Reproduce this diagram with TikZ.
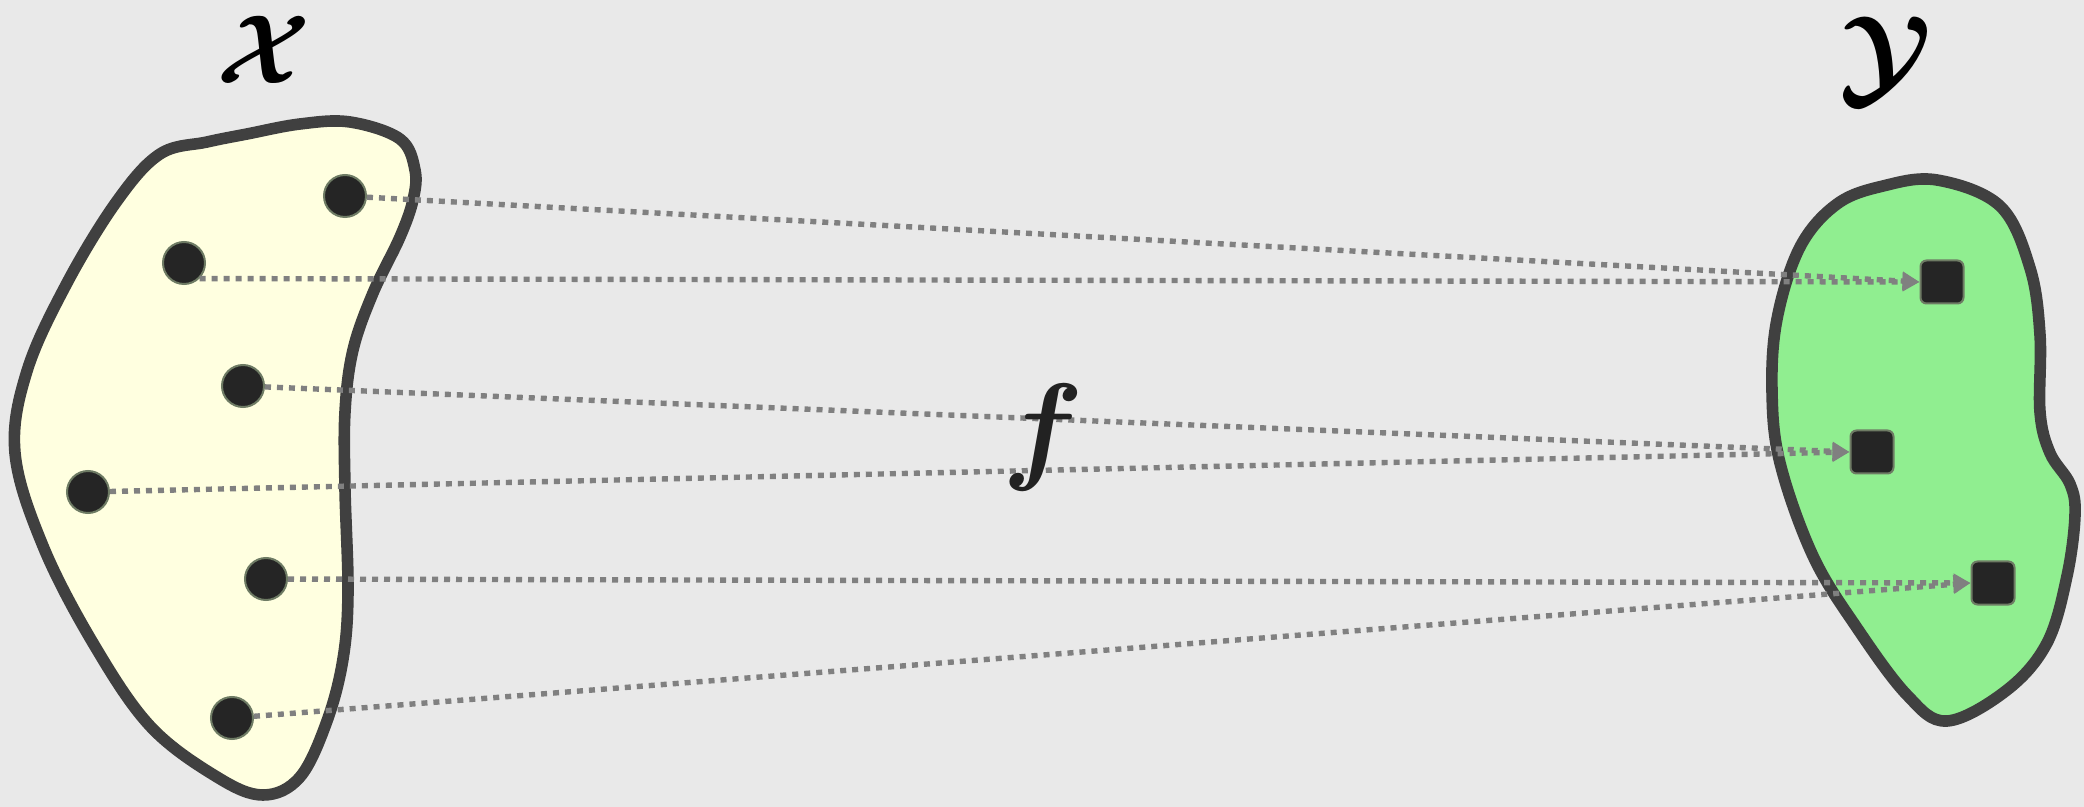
\documentclass[tikz,border=0pt]{standalone}
\usepackage{amsmath}
\usetikzlibrary{arrows.meta}
\definecolor{bg}{HTML}{E9E9E9}
\definecolor{xfill}{HTML}{FFFFE0}
\definecolor{yfill}{HTML}{90EE90}
\definecolor{outl}{HTML}{404040}
\definecolor{ptfill}{HTML}{252525}
\definecolor{ptedge}{HTML}{6E7B64}
\definecolor{conncol}{HTML}{808080}
\definecolor{flabel}{HTML}{222222}
\begin{document}
\begin{tikzpicture}[x=0.5pt,y=-0.5pt,
  blob/.style={draw=outl, line width=5.8pt, line join=round},
  ptx/.style={circle, fill=ptfill, draw=ptedge, line width=1pt, minimum size=21pt, inner sep=0pt},
  pty/.style={rectangle, rounded corners=3pt, fill=ptfill, draw=ptedge, line width=1pt, minimum size=21.5pt, inner sep=0pt},
  maparrow/.style={draw=conncol, line width=2.7pt, dash pattern=on 3pt off 3pt, -{Triangle[length=8.5pt,width=9pt,fill=conncol]}},
  setlabel/.style={inner sep=0pt, text=black}]
\fill[bg] (0,0) rectangle (2084,807);
\useasboundingbox (0,0) rectangle (2084,807);
% set X
\filldraw[blob, fill=xfill] plot[smooth cycle, tension=0.6] coordinates {
 (350,122) (400,139) (415,170) (413,200) (400,237) (373,293) (353,350) (345,412)
 (345,489) (348,592) (343,659) (327,721) (300,777) (263,795) (217,777) (150,726)
 (93,643) (43,546) (15,453) (27,371) (67,283) (117,201) (160,154) (207,142)
 (247,134) (300,124)};
% set Y
\filldraw[blob, fill=yfill] plot[smooth cycle, tension=0.6] coordinates {
 (1937,180) (2000,206) (2030,268) (2040,335) (2040,412) (2050,453) (2070,484)
 (2075,515) (2067,576) (2047,643) (2007,690) (1947,721) (1907,695) (1857,628)
 (1813,556) (1780,463) (1772,391) (1777,319) (1800,247) (1837,204) (1883,186)};
% points
\node[ptx] (d1) at (345,196) {};
\node[ptx] (d2) at (184,263) {};
\node[ptx] (d3) at (243,386) {};
\node[ptx] (d4) at (88,492) {};
\node[ptx] (d5) at (266,579) {};
\node[ptx] (d6) at (232,718) {};
\node[pty] (s1) at (1942,282) {};
\node[pty] (s2) at (1872,452) {};
\node[pty] (s3) at (1993,583) {};
% mapping
\draw[maparrow] (d1) -- (s1.west);
\draw[maparrow] (d2.-45) -- (s1.west);
\draw[maparrow] (d3) -- (s2.west);
\draw[maparrow] (d4) -- (s2.west);
\draw[maparrow] (d5) -- (s3.west);
\draw[maparrow] (d6) -- (s3.west);
% labels
\node[setlabel, scale=4.9] (lx) at (264,50) {$\boldsymbol{\mathcal{X}}$};
\node[setlabel, scale=5.5] (ly) at (1886,60) {$\boldsymbol{\mathcal{Y}}$};
\node[inner sep=0pt, text=flabel, scale=6] (lf) at (1043,438) {$\boldsymbol{f}$};
\end{tikzpicture}
\end{document}
